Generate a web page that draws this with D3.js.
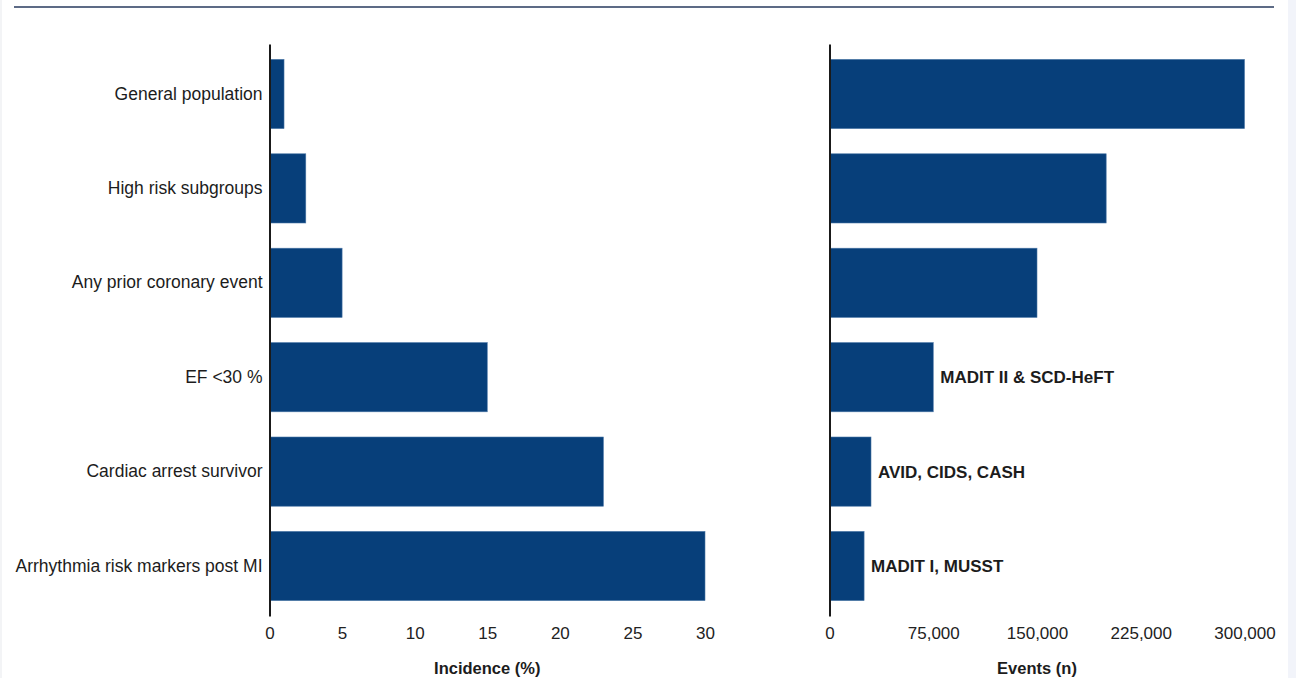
<!DOCTYPE html>
<html>
<head>
<meta charset="utf-8">
<script src="https://cdn.jsdelivr.net/npm/d3@7"></script>
<style>
  html, body { margin: 0; padding: 0; background: #ffffff; }
  svg { display: block; }
</style>
</head>
<body>
<svg id="chart" width="1296" height="678"></svg>
<script>
// Risk groups, top to bottom
const categories = [
  "General population",
  "High risk subgroups",
  "Any prior coronary event",
  "EF <30 %",
  "Cardiac arrest survivor",
  "Arrhythmia risk markers post MI"
];
// Incidence of sudden cardiac death (%)
const incidence = [1, 2.5, 5, 15, 23, 30];
// Absolute number of events per year
const events = [300000, 200000, 150000, 75000, 30000, 25000];
// Trials that enrolled each group
const trialLabels = ["", "", "", "MADIT II & SCD-HeFT", "AVID, CIDS, CASH", "MADIT I, MUSST"];
// Axis ticks
const incidenceTicks = [0, 5, 10, 15, 20, 25, 30];
const eventTicks = [0, 75000, 150000, 225000, 300000];

const W = 1296, H = 678;
const barColor = "#073f7a";
const font = "'Liberation Sans', Arial, sans-serif";

const svg = d3.select("#chart");

// page frame: side strips and top rule
svg.append("rect").attr("x", 0).attr("y", 0).attr("width", W).attr("height", H).attr("fill", "#ffffff");
svg.append("rect").attr("x", 0).attr("y", 0).attr("width", 2).attr("height", H).attr("fill", "#f3f4f6");
svg.append("rect").attr("x", 1288).attr("y", 0).attr("width", 8).attr("height", H).attr("fill", "#f2f4fa");
svg.append("line").attr("x1", 14).attr("x2", 1274).attr("y1", 7).attr("y2", 7)
  .attr("stroke", "#5d6b86").attr("stroke-width", 1.8);

const y = d3.scaleBand().domain(categories).range([44, 616])
  .paddingInner(0.267).paddingOuter(0.163);

const xL = d3.scaleLinear().domain([0, 30]).range([269.5, 705]);
const xR = d3.scaleLinear().domain([0, 300000]).range([829.5, 1244.5]);

const rows = categories.map((c, i) => ({ c, inc: incidence[i], ev: events[i], lab: trialLabels[i] }));

// bars
svg.append("g").selectAll("rect").data(rows).join("rect")
  .attr("x", xL(0)).attr("y", d => y(d.c))
  .attr("width", d => xL(d.inc) - xL(0)).attr("height", y.bandwidth())
  .attr("fill", barColor).attr("stroke", "#4a76a6").attr("stroke-width", 0.6);

svg.append("g").selectAll("rect").data(rows).join("rect")
  .attr("x", xR(0)).attr("y", d => y(d.c))
  .attr("width", d => xR(d.ev) - xR(0)).attr("height", y.bandwidth())
  .attr("fill", barColor).attr("stroke", "#4a76a6").attr("stroke-width", 0.6);

// trial annotations beside the event bars
svg.append("g").selectAll("text").data(rows.filter(d => d.lab)).join("text")
  .attr("x", d => xR(d.ev) + 7).attr("y", d => y(d.c) + y.bandwidth() / 2)
  .attr("dy", "0.35em")
  .style("font-family", font).style("font-size", "17px").style("font-weight", "bold")
  .attr("fill", "#1c1c1c")
  .text(d => d.lab);

// category axis (left panel)
const gy = svg.append("g").attr("transform", `translate(${xL(0)},0)`)
  .call(d3.axisLeft(y).tickSize(0).tickSizeOuter(0).tickPadding(7));
gy.select(".domain").attr("stroke", "#1a1a1a").attr("stroke-width", 2);
gy.selectAll("text").style("font-family", font).style("font-size", "17.5px").attr("fill", "#1c1c1c");

// plain vertical axis (right panel)
const gy2 = svg.append("g").attr("transform", `translate(${xR(0)},0)`)
  .call(d3.axisLeft(y).tickSize(0).tickSizeOuter(0).tickFormat(""));
gy2.select(".domain").attr("stroke", "#1a1a1a").attr("stroke-width", 2);

// value axes
const gxL = svg.append("g").attr("transform", "translate(0,616)")
  .call(d3.axisBottom(xL).tickValues(incidenceTicks).tickSize(0).tickPadding(11).tickFormat(d3.format("d")));
const gxR = svg.append("g").attr("transform", "translate(0,616)")
  .call(d3.axisBottom(xR).tickValues(eventTicks).tickSize(0).tickPadding(11).tickFormat(d3.format(",")));
[gxL, gxR].forEach(g => {
  g.select(".domain").remove();
  g.selectAll("text").style("font-family", font).style("font-size", "17px").attr("fill", "#222");
});

// axis titles
svg.append("text").attr("x", (xL.range()[0] + xL.range()[1]) / 2).attr("y", 674)
  .attr("text-anchor", "middle")
  .style("font-family", font).style("font-size", "16.5px").style("font-weight", "bold")
  .attr("fill", "#1c1c1c").text("Incidence (%)");
svg.append("text").attr("x", (xR.range()[0] + xR.range()[1]) / 2).attr("y", 674)
  .attr("text-anchor", "middle")
  .style("font-family", font).style("font-size", "16.5px").style("font-weight", "bold")
  .attr("fill", "#1c1c1c").text("Events (n)");
</script>
</body>
</html>
